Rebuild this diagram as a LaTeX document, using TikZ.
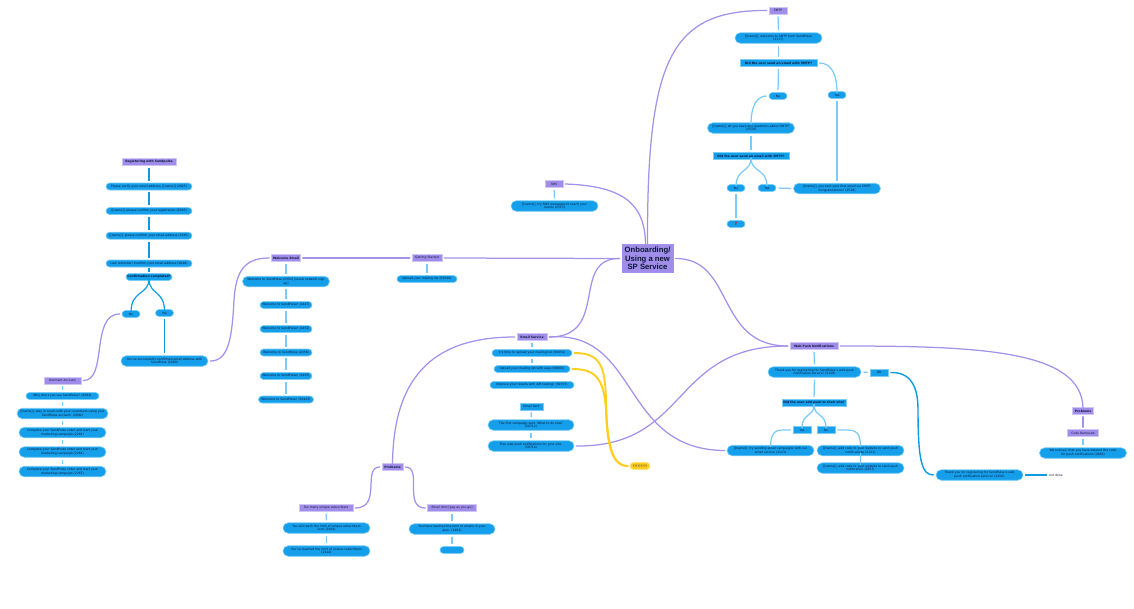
\documentclass[tikz,border=0pt]{standalone}
\usepackage{fontspec}
\setmainfont{DejaVu Sans}
\newfontfamily\rootfont{Liberation Sans}
\usetikzlibrary{shapes.misc}
\definecolor{pillc}{HTML}{159FEA}
\definecolor{pillb}{HTML}{78CCF6}
\definecolor{txt}{HTML}{0C1638}
\definecolor{purp}{HTML}{A08DEA}
\definecolor{purpb}{HTML}{CFC6F6}
\definecolor{purpl}{HTML}{A391EA}
\definecolor{blu}{HTML}{0A9BE4}
\definecolor{lblu}{HTML}{7CCBF6}
\definecolor{yel}{HTML}{FFCF1F}
\tikzset{
 pill/.style={rounded rectangle,fill=pillc,draw=pillb,line width=.6pt,text=txt,font=\fontsize{3.05}{3.9}\selectfont,align=center,inner sep=0pt,minimum height=7pt},
 tall/.style={pill,minimum height=10.5pt},
 sq/.style={rectangle,fill=pillc,draw=pillb,line width=.5pt,text=txt,font=\fontsize{3.05}{3.9}\selectfont,align=center,inner sep=0pt,minimum height=7pt},
 topic/.style={rectangle,fill=purp,draw=purpb,line width=.6pt,text=txt,font=\fontsize{3.05}{3.9}\selectfont,align=center,inner sep=0pt,minimum height=7pt},
 root/.style={rectangle,fill=purp,draw=purpl,line width=.8pt,text=txt,font=\rootfont\bfseries\fontsize{7.7}{8.5}\selectfont,align=center,inner sep=0pt,minimum width=51pt,minimum height=27.5pt},
 yelpill/.style={pill,fill=yel,draw=yel!60!white},
 pl/.style={draw=purpl,line width=1.25pt,line cap=round},
 bl/.style={draw=blu,line width=1.7pt},
 bs/.style={draw=blu,line width=.9pt},
 ll/.style={draw=lblu,line width=1.25pt},
 yl/.style={draw=yel,line width=1.9pt,line cap=round},
}
\begin{document}
\begin{tikzpicture}[x=1pt,y=-1pt]
\useasboundingbox (0,0) rectangle (1134,608);
% root
\node[root] (root) at (647.5,258.5) {Onboarding/\\Using a new\\SP Service};
% left block
\node[topic,minimum width=54pt] (reg) at (149,162) {\textbf{Registering with Sendpulse}};
\node[pill,minimum width=86pt] (r1) at (149,186.5) {Please verify your email address, [[name]] (2025)};
\node[pill,minimum width=86pt] (r2) at (149,211) {[[name]], please confirm your registration (2040)};
\node[pill,minimum width=86pt] (r3) at (149,235.7) {[[name]], please confirm your email address (2045)};
\node[pill,minimum width=86pt] (r4) at (149,263.5) {Last reminder! Confirm your email address (2046)};
\node[pill,minimum width=46pt] (r5) at (149,277) {\textbf{Confirmation completed?}};
\node[pill,minimum width=18pt] (rno) at (131,314) {No};
\node[pill,minimum width=18pt] (ryes) at (164.5,313) {Yes};
\node[tall,minimum width=87pt] (ok) at (164.5,361) {You've successfully confirmed email address with\\SendPulse (2460)};
% dormant
\node[topic,minimum width=37pt] (dor) at (62.5,380.5) {Dormant Account};
\node[pill,minimum width=73pt] (d1) at (62.5,396) {Why don't you use SendPulse? (2082)};
\node[tall,minimum width=91pt] (d2) at (62.5,413.5) {[[name]], stay in touch with your customers using your\\SendPulse account. (2092)};
\node[tall,minimum width=87pt] (d3) at (62.5,432.5) {Complete your SendPulse order and start your\\marketing campaign (2264)};
\node[tall,minimum width=87pt] (d4) at (62.5,452) {Complete your SendPulse order and start your\\marketing campaign (2264)};
\node[tall,minimum width=87pt] (d5) at (62.5,471.5) {Complete your SendPulse order and start your\\marketing campaign (2267)};
% welcome
\node[topic,minimum width=29pt] (wel) at (286,258) {\textbf{Welcome Email}};
\node[topic,minimum width=30pt] (get) at (427,258) {Getting Started};
\node[pill,minimum width=60pt] (up) at (427,279) {Upload your mailing list (50549)};
\node[tall,minimum width=87pt] (w1) at (286,281.5) {Welcome to SendPulse (2352) [social network sign\\up]};
\node[pill,minimum width=52pt] (w2) at (286,305) {Welcome to SendPulse! (2447)};
\node[pill,minimum width=52pt] (w3) at (286,329) {Welcome to SendPulse! (2452)};
\node[pill,minimum width=52pt] (w4) at (286,352.5) {Welcome to SendPulse (2456)};
\node[pill,minimum width=52pt] (w5) at (286,376) {Welcome to SendPulse! (2465)};
\node[pill,minimum width=55pt] (w6) at (286,399.5) {Welcome to SendPulse! (50405)};
% email service
\node[topic,minimum width=30pt] (es) at (532,337) {\textbf{Email Service}};
\node[pill,minimum width=80pt] (e1) at (532,353) {It's time to upload your mailing list (50454)};
\node[pill,minimum width=76pt] (e2) at (532,369) {Upload your mailing list with ease (50665)};
\node[pill,minimum width=84pt] (e3) at (532,385) {Improve your results with A/B testing! (50707)};
\node[sq,minimum width=23pt] (e4) at (531.5,406.5) {Email Sent};
\node[tall,minimum width=86pt] (e5) at (531,425) {The first campaign sent. What to do now?\\(50712)};
\node[tall,minimum width=86pt] (e6) at (531,446) {Free web push notifications for your site.\\(50714)};
\node[yelpill,minimum width=20pt] (qq) at (640,466) {?????????};
% problems
\node[topic,minimum width=21pt] (pr) at (392.5,467) {\textbf{Problems}};
\node[topic,minimum width=54pt] (p1) at (326,508) {Too many unique subscribers};
\node[tall,minimum width=87pt] (p2) at (326.5,528) {You will reach the limit of unique subscribers\\soon (2404)};
\node[tall,minimum width=87pt] (p3) at (326.5,551) {You've reached the limit of unique subscribers\\(2414)};
\node[topic,minimum width=49pt] (p4) at (452,508) {Email limit [pay as you go]};
\node[tall,minimum width=86pt] (p5) at (452,529) {You have reached the limit of emails in your\\plan. (2403)};
\node[pill,minimum width=24pt] (p6) at (452,550) {};
% sms
\node[topic,minimum width=18pt] (sms) at (554,184) {SMS};
\node[tall,minimum width=87pt] (s1) at (554.5,206) {[[name]], try SMS messages to reach your\\clients (2513)};
% smtp
\node[topic,minimum width=18pt] (smtp) at (778,10.5) {SMTP};
\node[tall,minimum width=87pt] (t1) at (778.5,38) {[[name]], welcome to SMTP from SendPulse\\(2117)};
\node[sq,minimum width=77pt] (t2) at (778.5,63) {\textbf{Did the user send an email with SMTP?}};
\node[pill,minimum width=18pt] (tno) at (778,96) {No};
\node[pill,minimum width=18pt] (tyes) at (837,95) {Yes};
\node[tall,minimum width=87pt] (t3) at (751,128) {[[name]], do you have any questions about SMTP?\\(2519)};
\node[sq,minimum width=76pt] (t4) at (751,156) {\textbf{Did the user send an email with SMTP?}};
\node[pill,minimum width=18pt] (t5) at (736,188) {No};
\node[pill,minimum width=18pt] (t6) at (767,188) {Yes};
\node[tall,minimum width=87pt] (t7) at (837,188.5) {[[name]], you sent your first email via SMTP.\\Congratulations! (2518)};
\node[pill,minimum width=18pt,text=red,font=\bfseries\fontsize{4.5}{5}\selectfont] (t8) at (736,224) {?};
% web push
\node[topic,minimum width=48pt] (wp) at (814,346) {\textbf{Web Push Notifications}};
\node[tall,minimum width=93pt] (a1) at (814.5,372) {Thank you for registering for SendPulse's web push\\notification service! (2120)};
\node[sq,minimum width=18pt] (or) at (879,372.5) {OR};
\node[sq,minimum width=64pt] (a2) at (814,402.5) {\textbf{Did the user add push to their site?}};
\node[sq,minimum width=18pt] (ay) at (802,430) {Yes};
\node[sq,minimum width=18pt] (an) at (826,430) {No};
\node[tall,minimum width=87pt] (a3) at (770.5,450.5) {[[name]], try sending email campaigns with our\\email service (2123)};
\node[tall,minimum width=87pt] (a4) at (860.5,450.5) {[[name]], add code to your website to send push\\notifications (2121)};
\node[tall,minimum width=87pt] (a5) at (860.5,468) {[[name]], add code to your website to send push\\notification (2857)};
\node[tall,minimum width=87pt] (a6) at (979.5,475) {Thank you for registering for SendPulse's web\\push notification service! (2256)};
\node[font=\fontsize{3.05}{3.9}\selectfont,text=txt,inner sep=0pt] (nd) at (1056,475) {not done};
\node[topic,minimum width=21pt] (b1) at (1083,411) {\textbf{Problems}};
\node[topic,minimum width=31pt] (b2) at (1083,433) {Code Removed};
\node[tall,minimum width=87pt] (b3) at (1083,453) {We noticed, that you have deleted the code\\for push notifications (2666)};
% purple connectors
\draw[pl] (root.north) .. controls (647,60) and (670,10) .. ([xshift=-2pt]smtp.west);
\draw[pl] ([xshift=-2pt]root.north) .. controls (645,205) and (625,186) .. ([xshift=2pt]sms.east);
\draw[pl] ([xshift=-2pt]root.west) -- ([xshift=2pt]get.east);
\draw[pl] ([xshift=-2pt]get.west) -- ([xshift=2pt]wel.east);
\draw[pl] ([xshift=-2pt]wel.west) .. controls (245,258) and (236,270) .. (234,300) .. controls (232,340) and (228,361) .. ([xshift=2pt]ok.east);
\draw[pl] ([xshift=-2pt]rno.west) .. controls (90,314) and (108,381) .. ([xshift=2pt]dor.east);
\draw[pl] ([xshift=-2pt]root.west) .. controls (570,258) and (610,337) .. ([xshift=2pt]es.east);
\draw[pl] ([xshift=-2pt]es.west) .. controls (430,337) and (393,380) .. ([yshift=-2pt]pr.north);
\draw[pl] ([xshift=2pt]es.east) .. controls (640,330) and (620,450) .. ([xshift=-2pt]a3.west);
\draw[pl] ([xshift=2pt]e6.east) .. controls (690,447) and (670,346) .. ([xshift=-2pt]wp.west);
\draw[pl] ([xshift=2pt]root.east) .. controls (735,258) and (715,346) .. ([xshift=-2pt]wp.west);
\draw[pl] ([xshift=2pt]wp.east) .. controls (980,346) and (1083,350) .. ([yshift=-2pt]b1.north);
\draw[pl] ([xshift=-2pt]pr.west) .. controls (362,467) and (382,508) .. ([xshift=2pt]p1.east);
\draw[pl] ([xshift=2pt]pr.east) .. controls (423,467) and (403,508) .. ([xshift=-2pt]p4.west);
\draw[pl,shorten >=2pt,shorten <=2pt] (b1.south) -- (b2.north);
% yellow connectors
\draw[yl] ([xshift=2pt]e1.east) .. controls (600,353) and (605,365) .. (606,400) .. controls (607,445) and (612,466) .. ([xshift=-2pt]qq.west);
\draw[yl] ([xshift=2pt]e2.east) .. controls (595,369) and (604,378) .. (606,410) .. controls (607,445) and (612,466) .. ([xshift=-2pt]qq.west);
% thick blue
\foreach \a/\b in {reg/r1,r1/r2,r2/r3,r3/r4}{\draw[bl,shorten >=2pt,shorten <=2pt] (\a.south) -- (\b.north);}
\draw[bl,shorten >=1pt,shorten <=1pt] (r4.south) -- (r5.north);
\draw[bs,line width=1.2pt] ([yshift=2pt]r5.south) .. controls (149,295) and (131,290) .. ([yshift=-2pt]rno.north);
\draw[bs,line width=1.2pt] ([yshift=2pt]r5.south) .. controls (149,295) and (164.5,290) .. ([yshift=-2pt]ryes.north);
\draw[bs,line width=1.2pt,shorten >=2pt,shorten <=2pt] (ryes.south) -- (ok.north);
\draw[bl,line width=1.4pt] ([xshift=2pt]or.east) .. controls (910,372) and (918,385) .. (918,410) .. controls (918,462) and (922,475) .. ([xshift=-2pt]a6.west);
\draw[bl,line width=1.2pt] ([xshift=2pt]a6.east) -- ([xshift=-2pt]nd.west);
% light blue chains
\foreach \a/\b in {dor/d1,d1/d2,d2/d3,d3/d4,d4/d5,wel/w1,w1/w2,w2/w3,w3/w4,w4/w5,w5/w6,get/up,es/e1,e1/e2,p1/p2,p2/p3,p4/p5,p5/p6,sms/s1,smtp/t1,t1/t2,t2/tno,t3/t4,t5/t8,wp/a1,a1/a2,b2/b3,e4/e5,e5/e6}{\draw[ll,shorten >=2pt,shorten <=2pt] (\a.south) -- (\b.north);}
\draw[ll,shorten >=2pt,shorten <=2pt] (tyes.south) -- (t7.north -| tyes.south);
\draw[ll] ([xshift=2pt]t2.east) .. controls (830,63) and (837,72) .. ([yshift=-2pt]tyes.north);
\draw[ll] ([xshift=-2pt]tno.west) .. controls (758,96) and (751,104) .. ([yshift=-2pt]t3.north);
\draw[ll] ([yshift=2pt]t4.south) .. controls (751,173) and (736,168) .. ([yshift=-2pt]t5.north);
\draw[ll] ([yshift=2pt]t4.south) .. controls (751,173) and (767,168) .. ([yshift=-2pt]t6.north);
\draw[ll,shorten >=2pt,shorten <=2pt] (t6.east) -- (t7.west);
\draw[ll] ([yshift=2pt]a2.south) .. controls (814,418) and (802,412) .. ([yshift=-2pt]ay.north);
\draw[ll] ([yshift=2pt]a2.south) .. controls (814,418) and (826,412) .. ([yshift=-2pt]an.north);
\draw[ll] ([xshift=-2pt]ay.west) .. controls (778,430) and (771,428) .. ([yshift=-2pt]a3.north);
\draw[ll] ([xshift=2pt]an.east) .. controls (853,430) and (860.5,428) .. ([yshift=-2pt]a4.north);
\draw[ll,shorten >=2pt,shorten <=2pt] (a1.east) -- (or.west);
\draw[ll,line width=.5pt] ([yshift=2.6pt]a4.south) -- ([yshift=-2.6pt]a5.north);
\end{tikzpicture}
\end{document}
